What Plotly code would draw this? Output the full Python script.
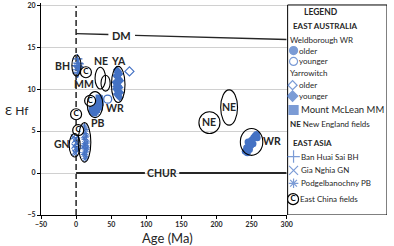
import plotly.graph_objects as go

BLUE = "#4472C4"
FONT = "Lato"

# ---- data ----
bh_x = [2, 3, 1, 4, 2, 3, 5, 2, 4, 3]
bh_y = [13.6, 13.1, 12.8, 12.6, 12.3, 12.0, 12.4, 11.9, 13.0, 12.7]

gn_x = [-4, -2, 0, 2, -3, -1, 1, 3, -2, 0, 2, -1]
gn_y = [4.3, 3.9, 4.1, 3.5, 3.2, 2.9, 3.0, 2.7, 2.5, 3.6, 4.4, 2.3]

pb_x = [12, 14, 10, 13, 15, 11, 13, 16, 12, 14, 10, 13, 15, 12, 11, 14, 13, 16]
pb_y = [5.6, 5.2, 4.9, 4.7, 4.4, 4.2, 4.0, 3.7, 3.5, 3.3, 3.1, 2.9, 2.6, 2.4, 2.2, 2.0, 1.7, 3.0]

mm_x = [32, 34, 33, 35, 31, 29, 27, 25, 23, 26, 24, 28, 22, 30, 33, 28, 25]
mm_y = [9.0, 8.9, 8.5, 8.3, 8.1, 7.9, 7.7, 7.5, 7.3, 7.1, 7.9, 7.3, 7.6, 7.5, 7.8, 8.3, 8.0]

ya_x = [58, 60, 62, 57, 59, 61, 63, 56, 58, 60, 62, 57, 59, 61, 58, 60, 62, 59, 61, 60, 57, 63]
ya_y = [12.3, 12.1, 11.8, 11.6, 11.4, 11.2, 11.0, 10.8, 10.6, 10.4, 10.2, 10.0, 9.8, 9.6,
        9.4, 9.2, 9.0, 12.0, 10.9, 11.7, 10.3, 9.6]

ya_old_x = [76]
ya_old_y = [12.1]

wr_old_x = [241, 243, 244, 246, 248, 247, 250, 252, 253, 255, 257, 258, 245, 249]
wr_old_y = [2.6, 3.0, 2.4, 3.2, 3.6, 2.8, 3.9, 3.5, 4.2, 4.4, 4.6, 4.2, 3.7, 3.3]

wr_young_x = [45]
wr_young_y = [8.8]

china_x = [14, 20, 0, 3]
china_y = [12.0, 8.6, 7.0, 5.1]

# ellipses: (center x, center y, half width, half height)
ellipses = [
    (0.5, 12.8, 6.5, 1.25),    # BH
    (34.5, 11.3, 7.5, 1.3),    # NE
    (42, 10.7, 6.5, 0.95),     # MM small
    (60, 10.55, 9.7, 2.15),    # YA
    (27, 8.15, 11.2, 1.55),    # MM
    (-2, 3.3, 7.8, 1.4),       # GN
    (12, 3.65, 9.0, 2.35),     # PB
    (190, 6.0, 15.0, 1.3),     # NE
    (218, 7.8, 12.0, 2.1),     # NE tall
    (250, 3.7, 16.0, 1.6),     # WR
]

labels = [("BH", -19, 12.8), ("NE", 35.5, 13.3), ("YA", 60, 13.3), ("MM", 11, 10.6),
          ("WR", 56, 7.8), ("PB", 31, 5.9), ("GN", -20, 3.5), ("NE", 190, 6.1),
          ("NE", 218, 7.9), ("WR", 279, 3.8)]

dm_x = [0, 46, None, 84, 300]
dm_y = [16.6, 16.5, None, 16.4, 15.9]
chur_x = [0, 98, None, 147, 300]
chur_y = [0, 0, None, 0, 0]

fig = go.Figure()

def pts(x, y, symbol, size, lw=1.0):
    fig.add_trace(go.Scatter(
        x=x, y=y, mode="markers", hoverinfo="skip",
        marker=dict(symbol=symbol, size=size, color=BLUE,
                    line=dict(color=BLUE, width=lw)),
    ))

pts(bh_x, bh_y, "cross-thin-open", 7, lw=1.2)
pts(gn_x, gn_y, "x-thin-open", 5, lw=1.1)
pts(pb_x, pb_y, "asterisk-open", 5, lw=1.0)
pts(mm_x, mm_y, "square", 6, lw=0)
pts(ya_x, ya_y, "diamond", 6, lw=0)
pts(ya_old_x, ya_old_y, "diamond-open", 7, lw=1.2)
pts(wr_old_x, wr_old_y, "circle", 7, lw=0)
pts(wr_young_x, wr_young_y, "circle-open", 8, lw=1.3)

# reference lines
fig.add_trace(go.Scatter(x=dm_x, y=dm_y, mode="lines", hoverinfo="skip",
                         line=dict(color="#262626", width=1.3)))
fig.add_trace(go.Scatter(x=chur_x, y=chur_y, mode="lines", hoverinfo="skip",
                         line=dict(color="#262626", width=2.2)))

# East China circled C
fig.add_trace(go.Scatter(
    x=china_x, y=china_y, mode="markers+text", text=["C"] * len(china_x),
    textposition="middle center", hoverinfo="skip",
    textfont=dict(family=FONT, size=8, color="black", weight="bold"),
    marker=dict(symbol="circle", size=11, color="white", line=dict(color="black", width=1.2)),
))

shapes = [dict(type="line", xref="x", yref="y", x0=0, x1=0, y0=-5, y1=20,
               line=dict(color="black", width=1.3, dash="6px,3px"), layer="below")]
for cx, cy, hw, hh in ellipses:
    shapes.append(dict(type="circle", xref="x", yref="y", x0=cx - hw, x1=cx + hw,
                       y0=cy - hh, y1=cy + hh, line=dict(color="black", width=1.1)))

annotations = []
for t, x, y in labels:
    annotations.append(dict(text=t, x=x, y=y, xref="x", yref="y", showarrow=False,
                            font=dict(family=FONT, size=10.5, color="#262626", weight="bold")))
annotations.append(dict(text="DM", x=65, y=16.4, xref="x", yref="y", showarrow=False,
                        font=dict(family=FONT, size=11, color="#262626", weight="bold")))
annotations.append(dict(text="CHUR", x=123, y=0, xref="x", yref="y", showarrow=False,
                        font=dict(family=FONT, size=10.5, color="#262626", weight="bold")))
annotations.append(dict(text="Ɛ Hf", x=-0.068, y=0.495, xref="paper", yref="paper",
                        xanchor="center", yanchor="middle", showarrow=False,
                        font=dict(family=FONT, size=12, color="#262626")))
annotations.append(dict(text="Age (Ma)", x=0.366, y=-0.107, xref="paper", yref="paper",
                        xanchor="center", yanchor="middle", showarrow=False,
                        font=dict(family=FONT, size=13, color="#262626")))

# ---- legend panel (x2/y2 in pixel-like coordinates) ----
shapes.append(dict(type="rect", xref="x2", yref="y2", x0=292, x1=393, y0=3, y1=215,
                   line=dict(color="black", width=1), fillcolor="white", layer="below"))

leg_mk_x = [298, 298, 297, 297, 298, 298, 298, 298]
leg_mk_y = [49, 60, 84, 95, 109, 156, 170, 183]
leg_mk_sym = ["circle", "circle-open", "diamond-open", "diamond", "square",
              "cross-thin-open", "x-thin-open", "asterisk-open"]
leg_mk_size = [8, 8, 7, 8, 9, 9, 9, 8]
fig.add_trace(go.Scatter(
    x=leg_mk_x, y=leg_mk_y, xaxis="x2", yaxis="y2", mode="markers", hoverinfo="skip",
    marker=dict(symbol=leg_mk_sym, size=leg_mk_size, color=BLUE,
                line=dict(color=BLUE, width=1.2)),
))
fig.add_trace(go.Scatter(
    x=[297.5], y=[199], xaxis="x2", yaxis="y2", mode="markers+text", text=["C"],
    textposition="middle center", hoverinfo="skip",
    textfont=dict(family=FONT, size=8, color="black", weight="bold"),
    marker=dict(symbol="circle", size=11, color="white", line=dict(color="black", width=1.2)),
))

leg_text = [
    ("<b>LEGEND</b>", 307, 10, 8.5),
    ("<b>EAST AUSTRALIA</b>", 295, 24, 8),
    ("Weldborough WR", 292, 38, 8),
    ("older", 302, 49, 8),
    ("younger", 302, 60, 8),
    ("Yarrowitch", 292, 72, 8),
    ("older", 302, 84, 8),
    ("younger", 302, 95, 8),
    ("Mount McLean MM", 304, 109, 9.5),
    ("<b>NE</b> New England fields", 292, 123, 8),
    ("<b>EAST ASIA</b>", 295, 142, 8),
    ("Ban Huai Sai BH", 304, 156, 8),
    ("Gia Nghia GN", 304, 170, 8),
    ("Podgelbanochny PB", 304, 183, 8),
    ("East China fields", 303, 199, 8),
]
for t, x, y, s in leg_text:
    annotations.append(dict(text=t, x=x, y=y, xref="x2", yref="y2", xanchor="left",
                            yanchor="middle", showarrow=False,
                            font=dict(family=FONT, size=s, color="#262626")))

fig.update_layout(
    width=394, height=246, showlegend=False,
    margin=dict(l=41, r=1, t=1, b=31),
    paper_bgcolor="white", plot_bgcolor="white",
    xaxis=dict(domain=[0, 0.71], range=[-50, 300], dtick=50, tick0=0,
               showgrid=False, zeroline=False, showline=True, linecolor="black",
               ticks="outside", ticklen=3, tickcolor="black",
               tickfont=dict(family=FONT, size=7, color="#262626", weight="bold")),
    yaxis=dict(domain=[0, 1], range=[-5, 20.25], dtick=5, tick0=0,
               showgrid=True, gridcolor="#d0d0d0", gridwidth=1, zeroline=False,
               showline=True, linecolor="black", ticks="outside", ticklen=3,
               tickcolor="black", ticklabeloverflow="allow",
               tickfont=dict(family=FONT, size=7, color="#262626", weight="bold")),
    xaxis2=dict(domain=[0.71, 1], range=[291, 393], visible=False, anchor="y2"),
    yaxis2=dict(domain=[0, 1], range=[215, 1], visible=False, anchor="x2"),
    shapes=shapes, annotations=annotations,
)

fig.write_html("out.html", config={"displayModeBar": False, "staticPlot": True},
               post_script="document.body.style.margin='0';")
